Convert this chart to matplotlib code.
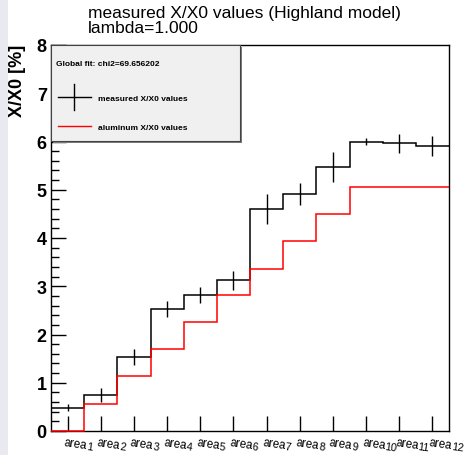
import numpy as np
import matplotlib
matplotlib.use("Agg")
import matplotlib.pyplot as plt
from matplotlib.patches import Rectangle
from matplotlib.lines import Line2D
from matplotlib.ticker import MultipleLocator

# ------------------------------------------------------------
# Data
area_names = ["area"] * 12
area_nums = ["1", "2", "3", "4", "5", "6", "7", "8", "9", "10", "11", "12"]
measured = [0.48, 0.75, 1.53, 2.53, 2.82, 3.12, 4.61, 4.92, 5.48, 6.00, 5.96, 5.90]
measured_err = [0.07, 0.15, 0.17, 0.17, 0.16, 0.19, 0.31, 0.23, 0.31, 0.08, 0.20, 0.21]
aluminum = [0.00, 0.56, 1.13, 1.69, 2.25, 2.82, 3.36, 3.93, 4.49, 5.05, 5.05, 5.05]
chi2 = 69.656202
lam = 1.000

plt.rcParams["font.family"] = ["Liberation Sans", "DejaVu Sans"]

W, H = 470, 456
fig = plt.figure(figsize=(W / 100, H / 100), dpi=100)
fig.patch.set_facecolor("white")
# light strip on the left edge
fig.patches.append(Rectangle((0, 0), 8 / W, 1, transform=fig.transFigure,
                             facecolor="#e9e9f1", edgecolor="none", zorder=-1))

ax = fig.add_axes([51 / W, (H - 432) / H, 398 / W, 386 / H])

edges = np.arange(len(area_names) + 1)
centers = edges[:-1] + 0.5

ax.stairs(measured, edges, baseline=None, color="black", lw=1.1)
ax.errorbar(centers, measured, yerr=measured_err, fmt="none", ecolor="black", elinewidth=1.0)
ax.stairs(aluminum, edges, baseline=None, color="red", lw=1.1, clip_on=False, zorder=3)

ax.set_xlim(0, len(area_names))
ax.set_ylim(0, 8)
ax.set_xticks(centers)
ax.set_xticklabels([])
# ROOT style labels: "area" then a nearly full size lowered index
for c, name, num in zip(centers, area_names, area_nums):
    ax.annotate(name, xy=(c, 0), xycoords=("data", "axes fraction"),
                xytext=(-2.0, -3.5), textcoords="offset points",
                rotation=-8, rotation_mode="anchor", ha="left", va="top",
                fontsize=8.3, annotation_clip=False)
    ax.annotate(num, xy=(c, 0), xycoords=("data", "axes fraction"),
                xytext=(14.0, -7.5), textcoords="offset points",
                rotation=-8, rotation_mode="anchor", ha="left", va="top",
                fontsize=7.8, annotation_clip=False)
ax.yaxis.set_major_locator(MultipleLocator(1))
ax.yaxis.set_minor_locator(MultipleLocator(0.2))
ax.tick_params(axis="both", which="major", direction="in", length=11, width=1.0,
               top=False, right=False)
ax.tick_params(axis="y", which="minor", direction="in", length=5.5, width=1.0, right=False)
ax.tick_params(axis="x", which="minor", bottom=False)
ax.tick_params(axis="y", labelsize=13, pad=3)
for lab in ax.get_yticklabels():
    lab.set_fontweight("bold")
for sp in ax.spines.values():
    sp.set_linewidth(1.0)

fig.text(17 / W, 1 - 45 / H, "X/X0 [%]", rotation=90, ha="center", va="top",
         fontsize=13, fontweight="bold")
fig.text(88 / W, 1 - 6 / H, "measured X/X0 values (Highland model)\nlambda=%.3f" % lam,
         ha="left", va="top", fontsize=12.5, linespacing=1.0)

# legend box drawn in axes fraction
lx0, lx1 = 0.0, (240 - 51) / 398
ly0, ly1 = (432 - 142) / 386, 1.0
ax.add_patch(Rectangle((lx0 + 0.004, ly0 - 0.004), lx1 - lx0, ly1 - ly0, transform=ax.transAxes,
                       facecolor="#7a7a7a", edgecolor="none", zorder=4, clip_on=False))
ax.add_patch(Rectangle((lx0, ly0), lx1 - lx0, ly1 - ly0, transform=ax.transAxes,
                       facecolor="#f0f0f0", edgecolor="#444444", lw=0.8, zorder=5, clip_on=False))
ax.text(0.0126, 0.951, "Global fit: chi2=%.6f" % chi2, transform=ax.transAxes,
        fontsize=6, fontweight="bold", va="center", ha="left", zorder=6)
ax.add_line(Line2D([0.0176, 0.1005], [0.865, 0.865], transform=ax.transAxes, color="black", lw=1.0, zorder=6))
ax.add_line(Line2D([0.059, 0.059], [0.832, 0.898], transform=ax.transAxes, color="black", lw=1.0, zorder=6))
ax.text(0.118, 0.862, "measured X/X0 values", transform=ax.transAxes,
        fontsize=6, fontweight="bold", va="center", ha="left", zorder=6)
ax.add_line(Line2D([0.0176, 0.1005], [0.790, 0.790], transform=ax.transAxes, color="red", lw=1.0, zorder=6))
ax.text(0.118, 0.787, "aluminum X/X0 values", transform=ax.transAxes,
        fontsize=6, fontweight="bold", va="center", ha="left", zorder=6)

fig.savefig("out.png", dpi=100)
